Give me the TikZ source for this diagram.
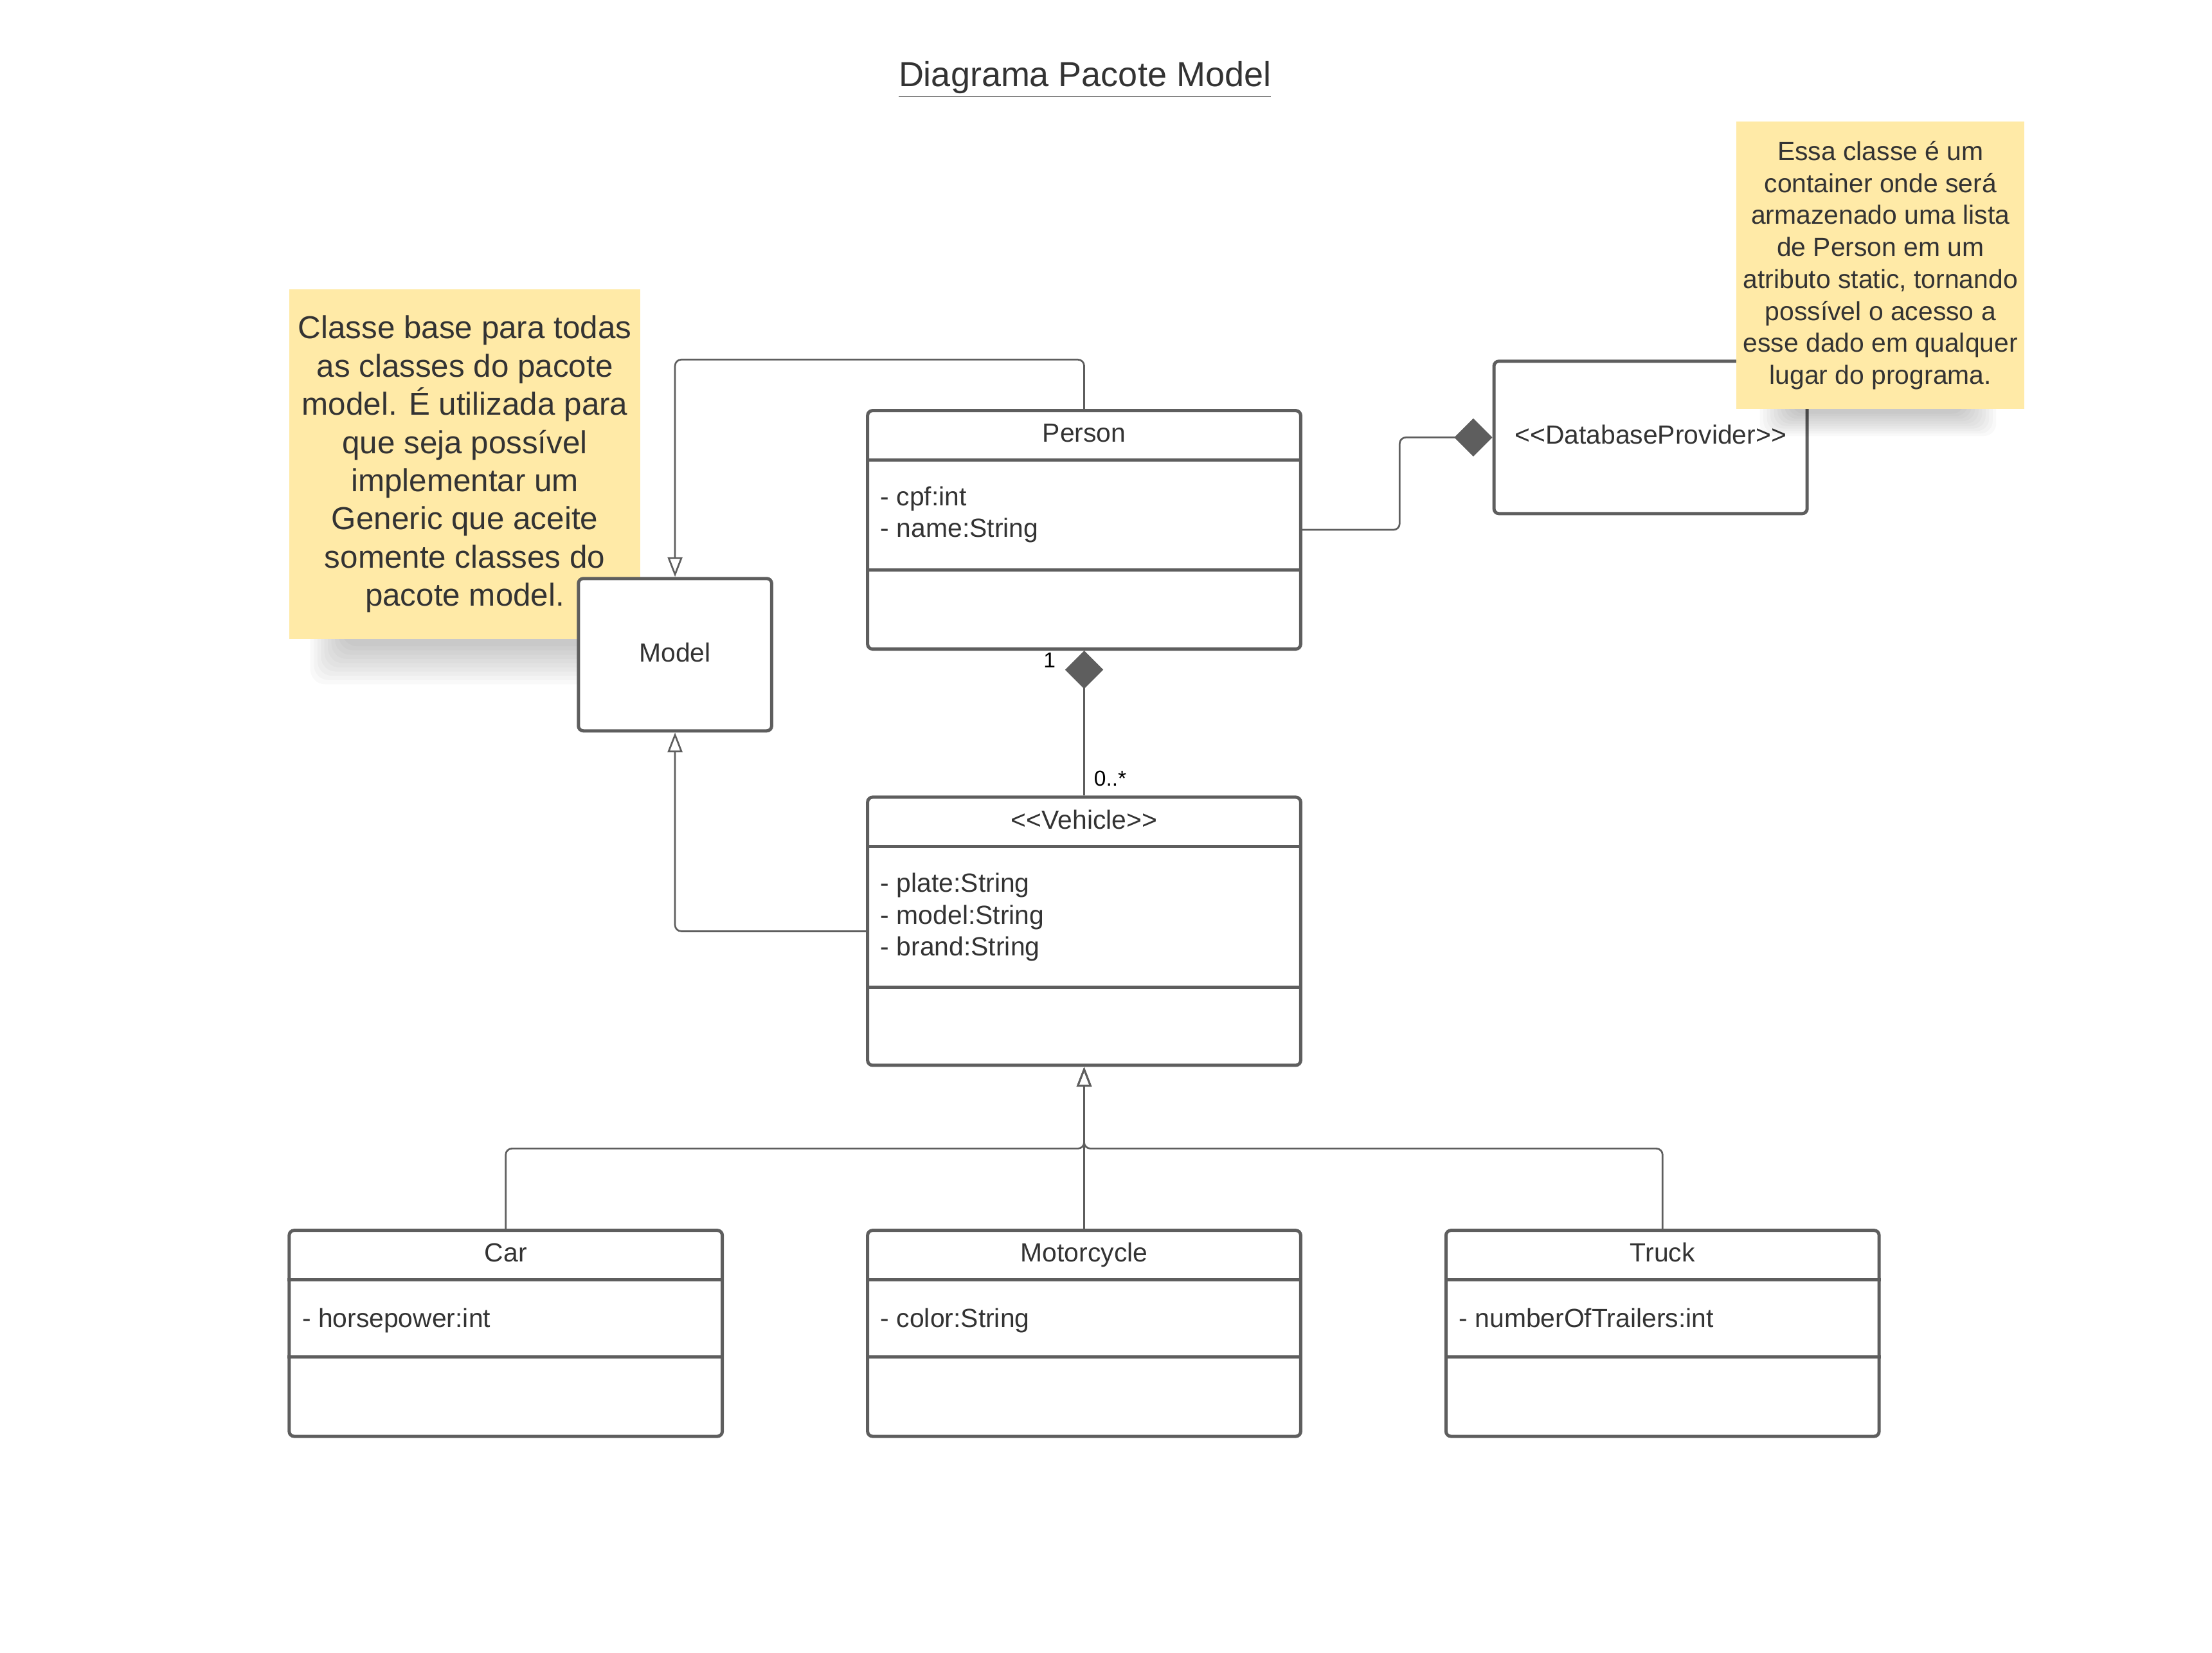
\documentclass[tikz,border=0pt]{standalone}
\usepackage{fontspec}
\setmainfont{Liberation Sans}
\usetikzlibrary{calc,arrows.meta}

\definecolor{linegray}{HTML}{5E5E5E}
\definecolor{textgray}{HTML}{333333}
\definecolor{notefill}{HTML}{FFEAA7}

\newcommand{\stereo}[1]{<\kern0pt<#1>\kern0pt>}

\tikzset{
  classbox/.style={draw=linegray, line width=1.3pt, fill=white, rounded corners=2pt, minimum width=6.14cm, inner sep=0pt},
  divider/.style={draw=linegray, line width=1.3pt},
  classtitle/.style={text=textgray, font=\fontsize{10.6}{12.9}\selectfont, inner sep=0pt, execute at begin node=\strut},
  attrtext/.style={text=textgray, font=\fontsize{10.6}{12.9}\selectfont, align=left, inner sep=0pt, anchor=north west, execute at begin node=\strut},
  note/.style={fill=notefill, text=textgray, align=center, inner sep=0pt},
  mult/.style={text=black, font=\fontsize{8.7}{10}\selectfont, inner sep=0pt},
  conn/.style={draw=linegray, line width=0.7pt, rounded corners=2.5pt},
  gen/.style={conn, -{Triangle[open, length=0.28cm, width=0.21cm]}},
  compstart/.style={conn, {Diamond[length=0.54cm, width=0.54cm]}-},
  compend/.style={conn, -{Diamond[length=0.54cm, width=0.54cm]}}
}

\begin{document}
\begin{tikzpicture}
    \useasboundingbox (0,0) rectangle (31.36,-23.43);

    \node (title) [text=textgray, font=\fontsize{14}{17}\selectfont] at (15.38,-1.13) {\underline{Diagrama Pacote Model}};

    \foreach \k in {0,...,9}
        \fill[black, opacity=0.025, rounded corners=6pt] (4.40+0.05*\k,-8.6) rectangle (8.95-0.05*\k,-9.70+0.06*\k);
    \node (basenote) [note, minimum width=4.98cm, minimum height=4.96cm] at (6.59,-6.58) {};
    \node (basetext) [note, font=\fontsize{12.8}{15.4}\selectfont] at (6.59,-6.58) {Classe base para todas\\as classes do pacote\\model. É utilizada para\\que seja possível\\implementar um\\Generic que aceite\\somente classes do\\pacote model.};

    \node (model) [classbox, minimum width=2.74cm, minimum height=2.16cm, font=\fontsize{10.6}{12.9}\selectfont, text=textgray] at (9.57,-9.28) {\raisebox{0.6mm}{Model}};

    \node (person) [classbox, minimum height=3.38cm] at (15.37,-7.51) {};
    \draw[divider] ($(person.north west)+(0,-0.72)$) -- ($(person.north east)+(0,-0.72)$);
    \draw[divider] ($(person.north west)+(0,-2.28)$) -- ($(person.north east)+(0,-2.28)$);
    \node (persontitle) [classtitle] at ($(person.north)+(0,-0.38)$) {Person};
    \node (personattr) [attrtext] at ($(person.north west)+(0.20,-1.09)$) {- cpf:int\\- name:String};

    \node (db) [classbox, minimum width=4.44cm, minimum height=2.16cm] at (23.40,-6.20) {};
    \node (dbtitle) [classtitle] at (db.center) {\stereo{DatabaseProvider}};

    \foreach \k in {0,...,9}
        \fill[black, opacity=0.025, rounded corners=5pt] (24.95+0.05*\k,-5.4) rectangle (28.30-0.05*\k,-6.18+0.035*\k);
    \node (dbnote) [note, minimum width=4.08cm, minimum height=4.08cm] at (26.66,-3.76) {};
    \node (dbtext) [note, font=\fontsize{10.6}{12.9}\selectfont] at (26.66,-3.76) {Essa classe é um\\container onde será\\armazenado uma lista\\de Person em um\\atributo static, tornando\\possível o acesso a\\esse dado em qualquer\\lugar do programa.};

    \node (vehicle) [classbox, minimum height=3.80cm] at (15.37,-13.20) {};
    \draw[divider] ($(vehicle.north west)+(0,-0.72)$) -- ($(vehicle.north east)+(0,-0.72)$);
    \draw[divider] ($(vehicle.north west)+(0,-2.72)$) -- ($(vehicle.north east)+(0,-2.72)$);
    \node (vehicletitle) [classtitle] at ($(vehicle.north)+(0,-0.38)$) {\stereo{Vehicle}};
    \node (vehicleattr) [attrtext] at ($(vehicle.north west)+(0.20,-1.09)$) {- plate:String\\- model:String\\- brand:String};

    \node (car) [classbox, minimum height=2.92cm] at (7.17,-18.90) {};
    \draw[divider] ($(car.north west)+(0,-0.72)$) -- ($(car.north east)+(0,-0.72)$);
    \draw[divider] ($(car.north west)+(0,-1.82)$) -- ($(car.north east)+(0,-1.82)$);
    \node (cartitle) [classtitle] at ($(car.north)+(0,-0.38)$) {Car};
    \node (carattr) [attrtext] at ($(car.north west)+(0.20,-1.07)$) {- horsepower:int};

    \node (moto) [classbox, minimum height=2.92cm] at (15.37,-18.90) {};
    \draw[divider] ($(moto.north west)+(0,-0.72)$) -- ($(moto.north east)+(0,-0.72)$);
    \draw[divider] ($(moto.north west)+(0,-1.82)$) -- ($(moto.north east)+(0,-1.82)$);
    \node (mototitle) [classtitle] at ($(moto.north)+(0,-0.38)$) {Motorcycle};
    \node (motoattr) [attrtext] at ($(moto.north west)+(0.20,-1.07)$) {- color:String};

    \node (truck) [classbox, minimum height=2.92cm] at (23.57,-18.90) {};
    \draw[divider] ($(truck.north west)+(0,-0.72)$) -- ($(truck.north east)+(0,-0.72)$);
    \draw[divider] ($(truck.north west)+(0,-1.82)$) -- ($(truck.north east)+(0,-1.82)$);
    \node (trucktitle) [classtitle] at ($(truck.north)+(0,-0.38)$) {Truck};
    \node (truckattr) [attrtext] at ($(truck.north west)+(0.20,-1.07)$) {- numberOfTrailers:int};

    \draw[gen] (person.north) -- ++(0,0.70) -| (model.north);
    \draw[gen] (vehicle.west) -| (model.south);
    \draw[compend] (person.east) -- ++(1.38,0) |- (db.west);
    \draw[compstart] (person.south) -- (vehicle.north);
    \node (multone) [mult] at (14.88,-9.36) {1};
    \node (multmany) [mult] at (15.74,-11.04) {0..*};

    \coordinate (join) at (15.37,-16.28);
    \draw[gen] (car.north) |- (join) -- (vehicle.south);
    \draw[gen] (truck.north) |- (join) -- (vehicle.south);
    \draw[gen] (moto.north) -- (vehicle.south);
\end{tikzpicture}
\end{document}
